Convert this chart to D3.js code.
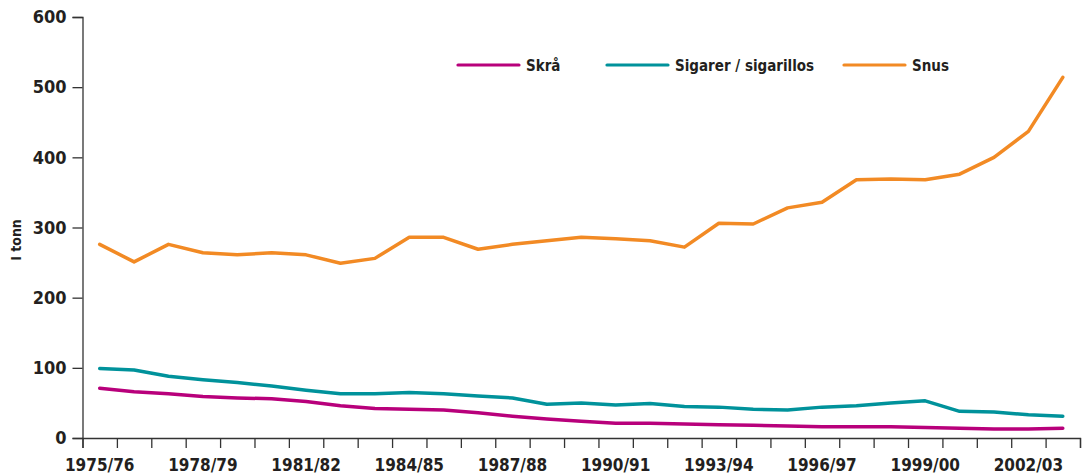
<!DOCTYPE html>
<html><head><meta charset="utf-8">
<script src="https://cdn.jsdelivr.net/npm/d3@7"></script>
<style>
body{margin:0;background:#fff;}
text{font-family:"Liberation Sans Narrow","DejaVu Sans Condensed","Roboto Condensed",sans-serif;fill:#231f20;}
</style></head>
<body><svg id="c" width="1083" height="475"></svg>
<script>
const years = ["1975/76","1976/77","1977/78","1978/79","1979/80","1980/81","1981/82","1982/83","1983/84","1984/85","1985/86","1986/87","1987/88","1988/89","1989/90","1990/91","1991/92","1992/93","1993/94","1994/95","1995/96","1996/97","1997/98","1998/99","1999/00","2000/01","2001/02","2002/03","2003/04"];
const skra = [71,66,63,59,57,56,52,46,42,41,40,36,31,27,24,21,21,20,19,18,17,16,16,16,15,14,13,13,14];
const sigarer = [99,97,88,83,79,74,68,63,63,65,63,60,57,48,50,47,49,45,44,41,40,44,46,50,53,38,37,33,31];
const snus = [276,251,276,264,261,264,261,249,256,286,286,269,276,281,286,284,281,272,306,305,328,336,368,369,368,376,400,437,514];
const yTicks = [0,100,200,300,400,500,600];
const xLabels = ["1975/76","1978/79","1981/82","1984/85","1987/88","1990/91","1993/94","1996/97","1999/00","2002/03"];
const seriesNames = ["Skrå","Sigarer / sigarillos","Snus"];
const colors = ["#b8007b","#00929b","#f28a24"];

const svg = d3.select("#c");
const mLeft = 82.5, mRight = 1080, mTop = 17, mBottom = 438;
const x = d3.scaleBand().domain(years).range([mLeft, mRight]).padding(0);
const xi = d3.scaleLinear().domain([0, years.length]).range([mLeft, mRight]);
const y = d3.scaleLinear().domain([0,600]).range([mBottom, mTop]);

// y axis
const ya = svg.append("g").attr("transform",`translate(${mLeft},0)`)
  .call(d3.axisLeft(y).tickValues(yTicks).tickSize(10).tickPadding(6));
ya.select(".domain").attr("stroke","#333").attr("stroke-width",1.3);
ya.selectAll(".tick line").attr("stroke","#333").attr("stroke-width",1.3);
ya.selectAll(".tick text").style("font-size","18px").style("font-weight","bold").attr("fill","#231f20");

// x axis ticks at band boundaries
const xa = svg.append("g").attr("transform",`translate(0,${mBottom})`)
  .call(d3.axisBottom(xi).tickValues(d3.range(years.length+1)).tickSize(10).tickFormat(""));
xa.select(".domain").attr("stroke","#333").attr("stroke-width",1.3);
xa.selectAll(".tick line").attr("stroke","#333").attr("stroke-width",1.3);

// x labels
const xl = svg.append("g").attr("transform",`translate(0,${mBottom})`)
  .call(d3.axisBottom(x).tickValues(xLabels).tickSize(0).tickPadding(21));
xl.select(".domain").remove();
xl.selectAll(".tick text").style("font-size","17px").style("font-weight","bold").attr("fill","#231f20");

// y title
svg.append("text").attr("transform","translate(21,240) rotate(-90)")
  .attr("text-anchor","middle").style("font-size","14px").style("font-weight","bold").text("I tonn");

// lines
const line = d3.line().x((d,i)=>x(years[i])+x.bandwidth()/2).y(d=>y(d)).curve(d3.curveLinear);
[skra,sigarer,snus].forEach((s,k)=>{
  svg.append("path").datum(s).attr("d",line).attr("fill","none")
    .attr("stroke",colors[k]).attr("stroke-width",3.5).attr("stroke-linejoin","round").attr("stroke-linecap","round");
});

// legend
const legX = [458,607,844];
seriesNames.forEach((n,k)=>{
  svg.append("line").attr("x1",legX[k]).attr("x2",legX[k]+61).attr("y1",65).attr("y2",65)
    .attr("stroke",colors[k]).attr("stroke-width",3.2).attr("stroke-linecap","round");
  svg.append("text").attr("x",legX[k]+68).attr("y",70.5).style("font-size","15px").style("font-weight","bold").text(n);
});
</script></body></html>
